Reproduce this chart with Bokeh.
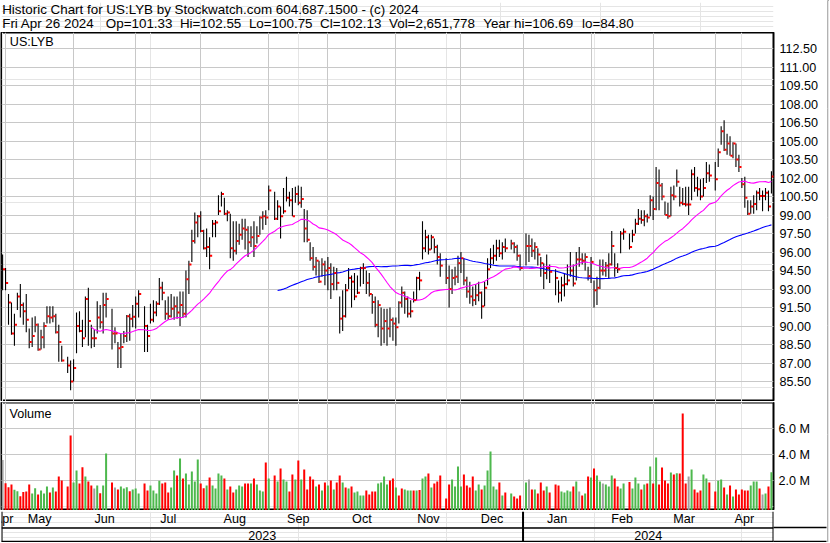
import numpy as np
import pandas as pd
from bokeh.plotting import figure
from bokeh.layouts import column, row
from bokeh.models import (Range1d, LinearAxis, FixedTicker, Grid, ColumnDataSource,
                          NumeralTickFormatter)
from bokeh.embed import file_html
from bokeh.resources import INLINE
from bokeh.core.properties import value

# ------------------------------------------------------------------ texts
TITLE = "Historic Chart for US:LYB by Stockwatch.com 604.687.1500 - (c) 2024"
INFO_FIELDS = ["Fri Apr 26 2024", "Op=101.33", "Hi=102.55", "Lo=100.75",
               "Cl=102.13", "Vol=2,651,778", "Year hi=106.69", "lo=84.80"]
SYMBOL = "US:LYB"
VOLUME_LABEL = "Volume"

# ------------------------------------------------------------------ calendar
FIRST_DAY = "2023-04-28"
LAST_DAY = "2024-04-26"
HOLIDAYS = ["2023-05-29", "2023-06-19", "2023-07-04", "2023-09-04", "2023-11-23",
            "2023-12-25", "2024-01-01", "2024-01-15", "2024-02-19", "2024-03-29"]
MONTH_STARTS = ["2023-04-01", "2023-05-01", "2023-06-01", "2023-07-01", "2023-08-01",
                "2023-09-01", "2023-10-01", "2023-11-01", "2023-12-01", "2024-01-01",
                "2024-02-01", "2024-03-01", "2024-04-01"]
MONTH_NAMES = ["Apr", "May", "Jun", "Jul", "Aug", "Sep", "Oct", "Nov", "Dec",
               "Jan", "Feb", "Mar", "Apr"]
YEAR_STARTS = ["2023-01-01", "2024-01-01"]
YEAR_NAMES = ["2023", "2024"]

PRICE_TICKS = [85.5, 87.0, 88.5, 90.0, 91.5, 93.0, 94.5, 96.0, 97.5, 99.0, 100.5,
               102.0, 103.5, 105.0, 106.5, 108.0, 109.5, 111.0, 112.5]
VOL_TICKS = [2.0, 4.0, 6.0]
VOL_TICK_LABELS = ["2.0 M", "4.0 M", "6.0 M"]
MA_FAST = 30
MA_SLOW = 90

# ------------------------------------------------------------------ daily data (trading days)
HIGH = [
    95.8, 94.7, 92.6, 91.9, 91.0, 92.7, 93.4, 91.9, 92.6, 89.8, 90.7, 90.8, 90.2, 89.7, 90.3, 91.6, 91.6, 91.6, 91.0, 90.1, 88.4, 87.5, 87.2, 87.3,
    91.1, 91.2, 90.5, 92.4, 93.1, 90.1, 89.7, 92.0, 91.7, 92.7, 92.7, 91.4, 89.9, 88.7, 89.4, 89.6, 90.9, 91.0, 91.7, 92.4, 92.9,
    91.6, 90.1, 91.8, 92.1, 92.0, 93.9, 93.6, 92.1, 92.4, 92.6, 92.4, 92.4, 92.8, 92.8, 94.5, 95.3, 97.8, 99.2, 99.0,
    99.3, 97.8, 97.9, 97.2, 98.6, 98.6, 100.6, 100.9, 100.4, 99.4, 99.1, 98.5, 98.5, 98.3, 98.7, 98.7, 98.1, 98.1, 98.5, 98.1, 98.9, 99.3, 99.4,
    101.4, 100.9, 100.2, 99.7, 101.2, 102.1, 100.9, 101.2, 101.3, 101.4, 101.3, 99.5, 99.4, 96.8, 96.4, 95.6, 95.3, 95.5, 95.3, 95.6,
    95.1, 94.8, 94.7, 92.4, 92.9, 93.4, 94.7, 94.1, 94.3, 94.1, 94.8, 95.1, 94.5, 94.3, 92.6, 92.4, 92.1, 91.5, 91.4, 91.4, 91.5, 90.7,
    90.7, 92.0, 93.2, 92.8, 92.4, 92.1, 92.8, 94.0, 94.4, 98.5, 97.8, 97.4, 97.4, 97.1, 96.6, 95.9,
    95.5, 94.9, 94.6, 94.8, 95.7, 96.0, 95.5, 94.0, 93.6, 93.2, 93.4, 93.6, 92.8, 93.6, 95.5, 96.3, 96.6, 97.0, 97.0, 96.8, 97.1,
    97.0, 96.8, 96.6, 95.8,
    97.5, 97.4, 97.1, 96.8, 96.3, 95.6, 95.1, 95.8, 95.0,
    94.6, 93.7, 94.0, 94.3, 95.0, 96.0, 95.0, 96.0, 96.4, 95.9, 95.9, 94.8,
    95.6, 93.7, 94.0, 95.4, 95.4, 95.2, 95.9, 97.7, 95.9, 95.1, 97.7, 97.9, 97.5, 97.8, 98.7, 99.5, 99.4, 99.4, 99.1, 100.6,
    100.5, 102.9, 102.7, 101.6, 100.1, 100.0, 101.3, 101.4, 102.7, 101.3, 101.2, 101.3, 101.3, 102.7, 102.9, 102.1, 101.9, 102.0, 103.3, 103.1,
    103.3, 104.4, 106.2, 106.69, 105.6, 105.4, 104.9, 104.8, 103.9, 102.0, 102.1, 100.2, 100.2, 100.6, 101.0, 101.2, 101.0, 101.2, 101.0, 102.55,
]
LOW = [
    92.9, 92.9, 90.1, 89.3, 88.4, 91.3, 90.7, 90.1, 89.5, 88.2, 88.3, 89.5, 88.0, 88.1, 88.2, 90.2, 90.2, 90.3, 89.4, 87.1, 87.1, 86.2, 84.8, 85.5,
    87.8, 89.5, 88.3, 89.1, 88.4, 88.2, 88.3, 89.4, 89.8, 89.4, 90.7, 88.1, 88.6, 86.6, 86.6, 88.6, 88.7, 88.8, 89.9, 89.8, 90.7,
    87.9, 87.9, 90.2, 90.3, 90.8, 91.7, 92.1, 90.5, 90.5, 90.7, 90.5, 90.6, 90.0, 90.7, 90.7, 92.6, 95.2, 96.7, 97.2,
    97.6, 96.2, 95.6, 94.6, 97.2, 97.2, 99.0, 99.7, 99.0, 98.5, 95.5, 95.3, 95.8, 96.6, 97.0, 96.2, 95.6, 96.4, 95.6, 96.7, 97.4, 97.8, 98.2,
    99.4, 98.6, 98.6, 97.1, 99.1, 100.1, 99.7, 98.9, 100.0, 99.8, 99.6, 96.8, 96.8, 95.3, 94.5, 94.1, 93.5, 94.0, 93.3, 92.9,
    92.2, 92.9, 92.9, 89.4, 89.6, 90.7, 93.0, 91.5, 92.1, 92.6, 93.2, 93.4, 92.6, 92.4, 91.0, 89.9, 89.1, 88.4, 88.6, 88.4, 89.1, 88.8,
    88.4, 90.2, 91.5, 91.0, 90.7, 90.7, 91.9, 92.1, 92.9, 95.4, 96.0, 95.8, 96.2, 95.9, 95.0, 94.0,
    93.4, 91.5, 92.6, 93.3, 93.5, 94.3, 93.3, 92.3, 91.8, 91.6, 91.7, 92.0, 90.6, 91.6, 93.3, 94.7, 95.0, 95.3, 95.6, 95.4, 96.0,
    96.2, 95.9, 95.3, 94.5,
    94.9, 95.2, 95.6, 95.4, 94.9, 94.0, 93.0, 93.8, 93.5,
    92.5, 91.9, 92.0, 92.4, 93.3, 94.0, 93.2, 93.7, 94.8, 95.0, 94.5, 93.7,
    93.5, 91.5, 91.7, 93.0, 94.1, 94.0, 93.9, 94.9, 94.0, 94.3, 95.9, 97.0, 96.2, 96.8, 97.5, 98.2, 98.3, 98.1, 98.4, 98.9,
    98.6, 99.4, 99.4, 100.2, 99.0, 98.7, 98.9, 100.2, 101.3, 99.7, 99.8, 99.7, 99.0, 100.2, 100.9, 100.5, 100.2, 100.5, 101.6, 101.7,
    101.0, 102.9, 104.7, 104.2, 103.9, 103.8, 103.6, 102.9, 102.5, 101.2, 99.6, 99.0, 99.1, 99.1, 99.4, 100.2, 99.3, 100.2, 99.3, 100.75,
]
CLOSE = [
    94.6, 93.5, 91.9, 89.4, 90.1, 92.4, 91.7, 91.2, 90.5, 88.7, 89.2, 90.1, 88.1, 89.1, 90.0, 90.8, 90.7, 90.8, 89.5, 88.7, 87.2, 86.8, 85.5, 86.6,
    90.0, 89.6, 89.0, 92.2, 90.4, 89.0, 89.0, 90.7, 90.3, 91.7, 92.2, 89.4, 89.4, 88.2, 88.3, 89.2, 90.8, 90.6, 90.75, 91.8, 92.6,
    90.0, 89.2, 90.5, 91.1, 91.8, 93.1, 92.7, 91.0, 90.8, 91.4, 91.6, 91.1, 91.7, 91.0, 93.8, 95.0, 96.9, 98.4, 98.9,
    97.7, 96.3, 96.4, 95.7, 98.3, 98.4, 99.3, 100.7, 99.1, 99.2, 96.3, 96.1, 96.9, 97.4, 97.9, 97.8, 96.8, 97.2, 96.5, 97.3, 98.8, 98.9, 98.8,
    101.0, 98.7, 99.7, 98.9, 99.3, 100.4, 100.2, 98.9, 100.7, 100.0, 100.3, 97.9, 97.0, 95.5, 94.8, 95.3, 93.6, 95.0, 94.5, 94.7,
    93.4, 94.3, 93.5, 90.6, 90.8, 92.9, 93.9, 93.6, 92.4, 92.7, 94.7, 94.7, 93.5, 92.6, 91.95, 90.1, 91.7, 89.8, 90.4, 89.8, 90.5, 90.2,
    89.9, 91.9, 92.7, 92.2, 91.0, 91.2, 92.1, 93.9, 93.7, 96.3, 97.2, 96.2, 97.2, 96.4, 95.6, 94.9,
    93.9, 93.0, 93.9, 94.0, 95.1, 95.5, 93.7, 92.8, 92.4, 92.1, 92.5, 92.7, 91.6, 93.1, 94.6, 95.5, 95.7, 96.3, 95.9, 96.4, 96.3,
    96.7, 96.4, 95.7, 94.7,
    96.5, 96.5, 96.1, 96.4, 95.8, 95.1, 94.3, 94.7, 94.4,
    93.9, 92.7, 93.3, 93.4, 93.7, 94.5, 93.45, 95.4, 95.4, 95.3, 95.6, 94.05,
    95.2, 92.9, 93.1, 94.5, 94.5, 94.9, 95.0, 96.5, 94.7, 94.6, 97.5, 97.65, 96.4, 97.4, 98.3, 98.7, 98.6, 98.9, 98.8, 100.2,
    99.5, 101.6, 101.4, 100.5, 99.0, 98.9, 100.6, 100.5, 101.7, 100.0, 99.9, 99.85, 99.85, 102.3, 101.2, 101.1, 100.5, 101.2, 102.4, 102.2,
    101.9, 104.1, 105.8, 104.3, 104.8, 103.8, 104.8, 103.5, 102.9, 101.5, 100.4, 99.1, 99.7, 99.9, 100.8, 100.55, 100.55, 100.8, 99.7, 102.13,
]
VOLUME_M = [
    3.6, 1.82, 1.51, 1.72, 1.31, 1.20, 0.82, 1.13, 1.18, 1.72, 1.02, 1.43, 0.95, 1.25, 1.02, 1.56, 1.10, 1.48, 1.18, 2.33, 2.02, 1.56, 5.48, 1.87,
    2.79, 1.79, 3.05, 2.33, 1.95, 1.64, 1.41, 1.64, 1.05, 1.64, 4.10, 1.87, 1.48, 1.33, 1.56, 1.41, 1.51, 1.20, 1.33, 1.41, 1.02,
    1.79, 1.25, 1.64, 1.25, 1.02, 2.0, 1.79, 1.87, 1.10, 1.48, 2.79, 2.41, 3.72, 2.18, 2.56, 1.72, 2.72, 1.95, 3.64,
    1.79, 1.43, 1.64, 2.25, 1.64, 1.41, 2.56, 2.41, 2.18, 1.33, 1.56, 1.10, 1.33, 1.64, 1.56, 1.79, 1.79, 1.79, 2.18, 1.72, 1.25, 1.18, 3.41,
    2.18, 2.41, 1.95, 2.95, 2.10, 1.95, 1.18, 2.48, 2.10, 3.56, 2.10, 2.87, 1.33, 2.33, 2.10, 1.56, 1.72, 1.25, 1.87, 1.64,
    2.02, 1.33, 1.87, 2.41, 1.87, 1.48, 1.41, 1.56, 1.10, 1.18, 0.87, 0.87, 1.25, 0.95, 1.18, 1.18, 1.79, 1.87, 2.33, 1.72, 2.02, 2.18,
    1.48, 0.87, 1.41, 1.33, 1.25, 1.25, 1.25, 1.25, 1.30, 2.18, 2.33, 2.56, 1.48, 1.79, 1.95, 2.41,
    0.64, 1.72, 2.10, 1.56, 3.10, 1.56, 2.48, 1.64, 1.48, 2.33, 1.25, 1.72, 1.33, 1.64, 2.79, 4.25, 1.56, 1.33, 1.87, 0.87, 1.10,
    1.02, 0.79, 0.64, 0.87,
    1.87, 2.10, 1.33, 1.33, 1.02, 1.87, 1.25, 1.56, 1.10,
    1.72, 1.64, 1.18, 1.10, 1.25, 1.18, 1.56, 1.95, 1.18, 0.87, 1.02, 2.33,
    2.25, 2.95, 2.41, 1.95, 1.79, 1.72, 1.56, 2.41, 2.18, 1.56, 1.41, 1.79, 1.90, 1.41, 2.25, 1.79, 1.33, 1.72, 1.79, 3.10,
    1.79, 3.79, 1.72, 3.02, 2.02, 1.79, 2.64, 2.48, 2.59, 2.56, 7.18, 1.79, 2.33, 2.87, 1.33, 1.10, 1.25, 2.48, 2.18, 1.87,
    1.18, 2.0, 2.10, 1.48, 0.95, 1.64, 0.79, 1.33, 0.95, 1.33, 1.25, 1.25, 1.64, 1.95, 1.95, 1.41, 0.95, 1.02, 1.56, 2.65,
]
# colour of each volume bar: u = up day (green), d = down day (red), n = unchanged (gray)
VOL_DIR_BY_PERIOD = [
    "ndddu" "udddd" "uudu" "uudu" "dddd" "du",          # Apr 28 - Jun 1
    "uddudd" "nudu" "udnd" "uuu" "duuu",                  # Jun 2 - Jul 3
    "dduuuuddduududuuuuu",                                # Jul 5 - Jul 31
    "ddudu" "uuudu" "dduuu" "ddudu" "uud",               # Aug
    "ududu" "uddud" "udddd" "udud" "u",                  # Sep
    "duddudud" "uuuu" "dddd" "uuuu" "dd",                # Oct
    "udduuudu" "duudu" "ddd",                            # Nov 1 - Nov 22
    "dduuuu" "dddd" "uudu" "uuuu" "dud",                 # Nov 24 - Dec 22
    "uddd",                                              # Dec 26 - Dec 29
    "undudddud",                                         # Jan 2 - Jan 12
    "dduuuudundud",                                      # Jan 16 - Jan 31
    "uduunuuudd" "uuduuudud" "u",                        # Feb
    "duddddudud" "ddnudddu" "ud",                        # Mar
    "duudud" "udddd" "duuudnudu",                        # Apr
]
VOL_DIR = list("".join(VOL_DIR_BY_PERIOD))

# ------------------------------------------------------------------ derived series
slots = pd.bdate_range(FIRST_DAY, LAST_DAY)
hol = pd.to_datetime(HOLIDAYS)
trade_days = slots[~slots.isin(hol)]
xpos = np.array([slots.get_loc(d) for d in trade_days], dtype=float)

n = len(trade_days)
assert len(HIGH) == n and len(LOW) == n and len(CLOSE) == n and len(VOLUME_M) == n
assert len(VOL_DIR) == n

close_s = pd.Series(CLOSE, dtype=float)
ma_fast = close_s.rolling(MA_FAST).mean().to_numpy()
ma_slow = close_s.rolling(MA_SLOW).mean().to_numpy()

COLORS = {"u": "#4DB84D", "d": "#FF0000", "n": "#A0A0A0"}
vol_colors = [COLORS[c] for c in VOL_DIR]


def slot_of(date_str):
    """index of the last weekday on or before the given calendar date"""
    return int(slots.searchsorted(pd.Timestamp(date_str), side="right")) - 1


month_grid = [slot_of(d) for d in MONTH_STARTS]
year_grid = [slot_of(d) for d in YEAR_STARTS]

# ------------------------------------------------------------------ geometry (pixels)
FONT = "Liberation Sans"
W_MAIN = 827
BL, BR = 1, 54                       # frame borders shared by all stacked figures
X0, X1 = -0.372, 260.70              # visible weekday-slot range
PX_PER_SLOT = (W_MAIN - BL - BR) / (X1 - X0)
H_TOP, H_TITLE, H_RULE1 = 2, 29, 1
H_PRICE, H_GAP, H_VOL, H_RULE2 = 369, 1, 108, 1
H_DATES = 31
P0, P1 = 83.88, 113.805              # price range shown
V0, V1 = -0.285, 8.023               # volume range shown (millions)
GRID_COLOR = "#C8C8C8"
LABEL_SIZE = "12.6px"

vis_grid = [g_ for g_ in month_grid if X0 < g_ < X1]
common = dict(toolbar_location=None, output_backend="svg")


def band(h, frame_color="white", border_color="white", xr=None, yr=None):
    return figure(width=W_MAIN, height=h,
                  x_range=xr if xr is not None else Range1d(0, 1),
                  y_range=yr if yr is not None else Range1d(0, h),
                  x_axis_location=None, y_axis_location=None,
                  min_border_left=BL, min_border_right=BR, min_border_top=0, min_border_bottom=0,
                  outline_line_color=None, background_fill_color=frame_color,
                  border_fill_color=border_color, **common)


# ---------------- title block
top_rule = band(H_TOP, "black", "black")
t = band(H_TITLE, xr=Range1d(BL, W_MAIN - BR), yr=Range1d(0, H_TITLE))
title_y = lambda y_px: H_TOP + H_TITLE - y_px          # page pixel row -> title data y
t.text(x=[1.7], y=[title_y(8.9)], text=[TITLE], text_font=value(FONT), text_font_size="13.4px",
       text_color="black", text_baseline="middle", text_align="left")
INFO_X = [1.7, 105.3, 179.4, 248.4, 319.5, 388.5, 482.7, 581.5]
t.text(x=INFO_X, y=[title_y(22.6)] * len(INFO_FIELDS), text=INFO_FIELDS, text_font=value(FONT),
       text_font_size="13.4px", text_color="black", text_baseline="middle", text_align="left")
rule1 = band(H_RULE1, "black", "black")

# ---------------- price panel
src = ColumnDataSource(dict(x=xpos, xc=xpos + 0.5, high=HIGH, low=LOW, close=CLOSE,
                            maf=ma_fast, mas=ma_slow))
xr = Range1d(X0, X1)
p = figure(width=W_MAIN, height=H_PRICE, x_range=xr, y_range=Range1d(P0, P1),
           x_axis_location=None, y_axis_location=None,
           min_border_left=BL, min_border_right=BR, min_border_top=0, min_border_bottom=0,
           outline_line_color="black", outline_line_width=2,
           background_fill_color="white", border_fill_color="white", **common)
p.add_layout(Grid(dimension=1, ticker=FixedTicker(ticks=PRICE_TICKS),
                  grid_line_color=GRID_COLOR, grid_line_width=1))
p.add_layout(Grid(dimension=0, ticker=FixedTicker(ticks=vis_grid),
                  grid_line_color=GRID_COLOR, grid_line_width=1))
pax = LinearAxis(ticker=FixedTicker(ticks=PRICE_TICKS),
                 formatter=NumeralTickFormatter(format="0.00"),
                 major_tick_line_color=None, minor_tick_line_color=None,
                 major_tick_in=0, major_tick_out=0, axis_line_color=None,
                 major_label_standoff=6, major_label_text_font=FONT,
                 major_label_text_font_size=LABEL_SIZE, major_label_text_color="black")
p.add_layout(pax, "right")

p.segment(x0="x", y0="low", x1="x", y1="high", source=src, line_color="black", line_width=1.1)
p.line(x="x", y="mas", source=src, line_color="#0000FF", line_width=1.1)
p.line(x="x", y="maf", source=src, line_color="#FF00FF", line_width=1.1)
p.rect(x="xc", y="close", width=2.2, height=2, width_units="screen", height_units="screen",
       source=src, fill_color="#FF0000", line_color=None)
px_per_price = H_PRICE / (P1 - P0)
p.text(x=[X0 + 8.3 / PX_PER_SLOT], y=[P1 - 9.7 / px_per_price], text=[SYMBOL],
       text_font=value(FONT), text_font_size=LABEL_SIZE, text_color="black",
       text_baseline="middle", text_align="left")

# ---------------- 1 px gap between the two panels (rule continues through the axis column)
gap = band(H_GAP, "white", "black")

# ---------------- volume panel
vsrc = ColumnDataSource(dict(x=xpos, vol=VOLUME_M, color=vol_colors))
v = figure(width=W_MAIN, height=H_VOL, x_range=xr, y_range=Range1d(V0, V1),
           x_axis_location=None, y_axis_location=None,
           min_border_left=BL, min_border_right=BR, min_border_top=0, min_border_bottom=0,
           outline_line_color="black", outline_line_width=2,
           background_fill_color="white", border_fill_color="white", **common)
v.add_layout(Grid(dimension=1, ticker=FixedTicker(ticks=VOL_TICKS),
                  grid_line_color=GRID_COLOR, grid_line_width=1))
v.add_layout(Grid(dimension=0, ticker=FixedTicker(ticks=vis_grid),
                  grid_line_color=GRID_COLOR, grid_line_width=1))
vax = LinearAxis(ticker=FixedTicker(ticks=VOL_TICKS),
                 major_label_overrides={t_: l_ for t_, l_ in zip(VOL_TICKS, VOL_TICK_LABELS)},
                 major_tick_line_color=None, minor_tick_line_color=None,
                 major_tick_in=0, major_tick_out=0, axis_line_color=None,
                 major_label_standoff=5, major_label_text_font=FONT,
                 major_label_text_font_size=LABEL_SIZE, major_label_text_color="black")
v.add_layout(vax, "right")
v.vbar(x="x", top="vol", bottom=V0, width=0.68, source=vsrc, fill_color="color", line_color=None)
px_per_vol = H_VOL / (V1 - V0)
v.text(x=[X0 + 8.0 / PX_PER_SLOT], y=[V1 - 11.0 / px_per_vol], text=[VOLUME_LABEL],
       text_font=value(FONT), text_font_size=LABEL_SIZE, text_color="black",
       text_baseline="middle", text_align="left")
rule2 = band(H_RULE2, "black", "black")

# ---------------- date rows (months above, years below) in one strip
d = band(H_DATES, xr=xr, yr=Range1d(0, H_DATES))
SEP_Y, BOTTOM_Y = 14.6, 1.0          # rules between / under the two rows (strip pixels)


def centers(starts):
    left = [max(g_, X0) for g_ in starts]
    right = [min(g_, X1) for g_ in starts[1:]] + [X1]
    return [(l_ + r_) / 2 for l_, r_ in zip(left, right)]


d.text(x=centers(month_grid), y=[23.2] * len(MONTH_NAMES), text=MONTH_NAMES,
       text_font=value(FONT), text_font_size=LABEL_SIZE, text_color="black",
       text_baseline="middle", text_align="center")
d.text(x=centers(year_grid), y=[7.3] * len(YEAR_NAMES), text=YEAR_NAMES,
       text_font=value(FONT), text_font_size=LABEL_SIZE, text_color="black",
       text_baseline="middle", text_align="center")
d.segment(x0=[X0, X0], y0=[SEP_Y, BOTTOM_Y], x1=[X1, X1], y1=[SEP_Y, BOTTOM_Y],
          line_color="black", line_width=1.5)
inner_years = [yg for yg in year_grid if X0 < yg < X1]
vx = [X0, X1] + inner_years
d.segment(x0=vx, y0=[0] * len(vx), x1=vx, y1=[H_DATES] * len(vx), line_color="black", line_width=2)
# the two rules continue through the axis column: drawn as long outward ticks of a bare axis
rule_axis = LinearAxis(ticker=FixedTicker(ticks=[SEP_Y, BOTTOM_Y]),
                       major_label_overrides={SEP_Y: "", BOTTOM_Y: ""},
                       major_label_text_font_size="1px", major_label_standoff=0,
                       major_tick_in=0, major_tick_out=53, major_tick_line_color="black",
                       major_tick_line_width=1.5, minor_tick_line_color=None,
                       axis_line_color=None)
d.add_layout(rule_axis, "right")

left_col = column(top_rule, t, rule1, p, gap, v, rule2, d, spacing=0)
total_h = H_TOP + H_TITLE + H_RULE1 + H_PRICE + H_GAP + H_VOL + H_RULE2 + H_DATES
edge = figure(width=2, height=total_h, x_range=Range1d(0, 1), y_range=Range1d(0, 1),
              x_axis_location=None, y_axis_location=None, min_border=0,
              outline_line_color=None, background_fill_color="black",
              border_fill_color="black", **common)
layout = row(left_col, edge, spacing=0)

open("out.html", "w").write(file_html(layout, INLINE, "US:LYB historic chart"))
